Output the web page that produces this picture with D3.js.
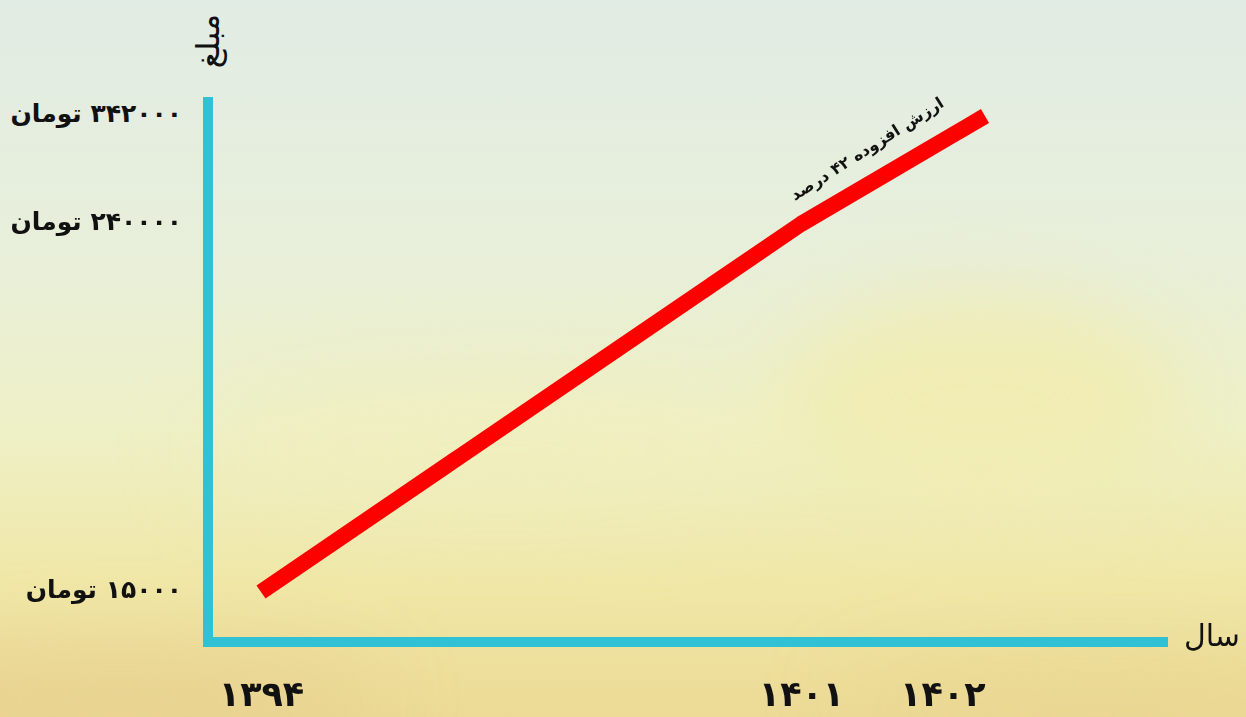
<!DOCTYPE html>
<html>
<head>
<meta charset="utf-8">
<script src="https://cdn.jsdelivr.net/npm/d3@7"></script>
<style>
  html, body { margin: 0; padding: 0; overflow: hidden; }
  svg { display: block; }
  text { font-family: "DejaVu Sans", sans-serif; fill: #111; }
</style>
</head>
<body>
<div id="chart"></div>
<script>
// values
const years = [1394, 1401, 1402];
const prices = [15000, 240000, 342000];
const yearLabels = ['۱۳۹۴', '۱۴۰۱', '۱۴۰۲'];
const priceLabels = ['۱۵۰۰۰ تومان', '۲۴۰۰۰۰ تومان', '۳۴۲۰۰۰ تومان'];
const note = 'ارزش افزوده ۴۲ درصد';
const xTitle = 'سال';
const yTitle = 'مبلغ';

const W = 1246;
const H = 717;
// frame of the two cyan bars
const frame = {x0: 208, y0: 642, top: 97, right: 1168};

// the picture is not to scale, so both scales are piecewise
const scaleX = d3.scaleLinear().domain(years).range([261, 801, 985]);
const scaleY = d3.scaleLinear().domain(prices).range([592, 224, 116]);

const rtl = s => '\u202B' + s + '\u202C';

const svg = d3.select('#chart').append('svg')
	.attr('width', W)
	.attr('height', H);

//Background: soft gradient with blurred warm patches
const defs = svg.append('defs');
const grad = defs.append('linearGradient')
	.attr('id', 'bg')
	.attr('x1', 0).attr('y1', 0).attr('x2', 0).attr('y2', 1);
[['0%', '#e1ece4'], ['35%', '#e8efda'], ['60%', '#eef0c6'], ['82%', '#f0e7a6'], ['100%', '#ecda96']]
	.forEach(s => grad.append('stop').attr('offset', s[0]).attr('stop-color', s[1]));
defs.append('filter').attr('id', 'blur')
	.attr('x', '-50%').attr('y', '-50%').attr('width', '200%').attr('height', '200%')
	.append('feGaussianBlur').attr('stdDeviation', 40);

svg.append('rect').attr('width', W).attr('height', H).attr('fill', 'url(#bg)');

const blobs = svg.append('g').attr('filter', 'url(#blur)');
blobs.append('ellipse').attr('cx', 980).attr('cy', 400).attr('rx', 200).attr('ry', 100)
	.attr('fill', '#f1ecae').attr('opacity', 0.8);
blobs.append('ellipse').attr('cx', 500).attr('cy', 450).attr('rx', 300).attr('ry', 70)
	.attr('fill', '#f2eebc').attr('opacity', 0.6);
blobs.append('ellipse').attr('cx', 120).attr('cy', 700).attr('rx', 260).attr('ry', 50)
	.attr('fill', '#e6cc8c').attr('opacity', 0.6);
blobs.append('ellipse').attr('cx', 1100).attr('cy', 705).attr('rx', 260).attr('ry', 45)
	.attr('fill', '#e8d28e').attr('opacity', 0.5);

//Axis bars
svg.append('line')
	.attr('x1', frame.x0).attr('y1', frame.top)
	.attr('x2', frame.x0).attr('y2', frame.y0 + 5)
	.attr('stroke', '#31c1d5').attr('stroke-width', 10);
svg.append('line')
	.attr('x1', frame.x0 - 5).attr('y1', frame.y0)
	.attr('x2', frame.right).attr('y2', frame.y0)
	.attr('stroke', '#31c1d5').attr('stroke-width', 10);

//Tick labels through d3 axes
const axisY = d3.axisLeft(scaleY)
	.tickValues(prices)
	.tickSize(0)
	.tickPadding(0)
	.tickFormat((d, i) => rtl(priceLabels[i]));
const gy = svg.append('g')
	.attr('transform', 'translate(182,-3)')
	.call(axisY);
gy.select('.domain').remove();
gy.selectAll('text')
	.attr('x', 0)
	.attr('dy', '0.35em')
	.style('font-size', '25px')
	.style('font-weight', 'bold')
	.attr('fill', '#111');

const axisX = d3.axisBottom(scaleX)
	.tickValues(years)
	.tickSize(0)
	.tickPadding(0)
	.tickFormat((d, i) => yearLabels[i]);
const gx = svg.append('g')
	.attr('transform', 'translate(0,694)')
	.call(axisX);
gx.select('.domain').remove();
gx.selectAll('text')
	.attr('y', 0)
	.attr('dy', '0.35em')
	.attr('text-anchor', (d, i) => i === years.length - 1 ? 'end' : 'middle')
	.style('font-size', '35px')
	.style('font-weight', 'bold')
	.attr('fill', '#111');

//Axis titles
svg.append('text')
	.attr('x', 1240).attr('y', 646)
	.attr('text-anchor', 'end')
	.style('font-size', '30px')
	.text(rtl(xTitle));
svg.append('text')
	.attr('transform', 'translate(219,41) rotate(-90)')
	.attr('text-anchor', 'middle')
	.style('font-size', '32px')
	.text(rtl(yTitle));

//Price line
const pts = years.map((y, i) => ({key: y, value: prices[i]}));
const lineGenerator = d3.line()
	.x(d => scaleX(d.key))
	.y(d => scaleY(d.value));
svg.append('path')
	.datum(pts)
	.attr('d', lineGenerator)
	.style('fill', 'none')
	.style('stroke', '#ff0000')
	.style('stroke-width', '16px')
	.style('stroke-linejoin', 'round');

//Note along the last segment
const a = pts[pts.length - 2], b = pts[pts.length - 1];
const ax = scaleX(a.key), ay = scaleY(a.value), bx = scaleX(b.key), by = scaleY(b.value);
const angle = Math.atan2(by - ay, bx - ax) * 180 / Math.PI;
const t = 0.45;
svg.append('text')
	.attr('transform', `translate(${ax + t * (bx - ax)},${ay + t * (by - ay)}) rotate(${angle - 2})`)
	.attr('text-anchor', 'middle')
	.attr('dy', '-26')
	.style('font-size', '16px')
	.style('font-weight', 'bold')
	.text(rtl(note));
</script>
</body>
</html>
